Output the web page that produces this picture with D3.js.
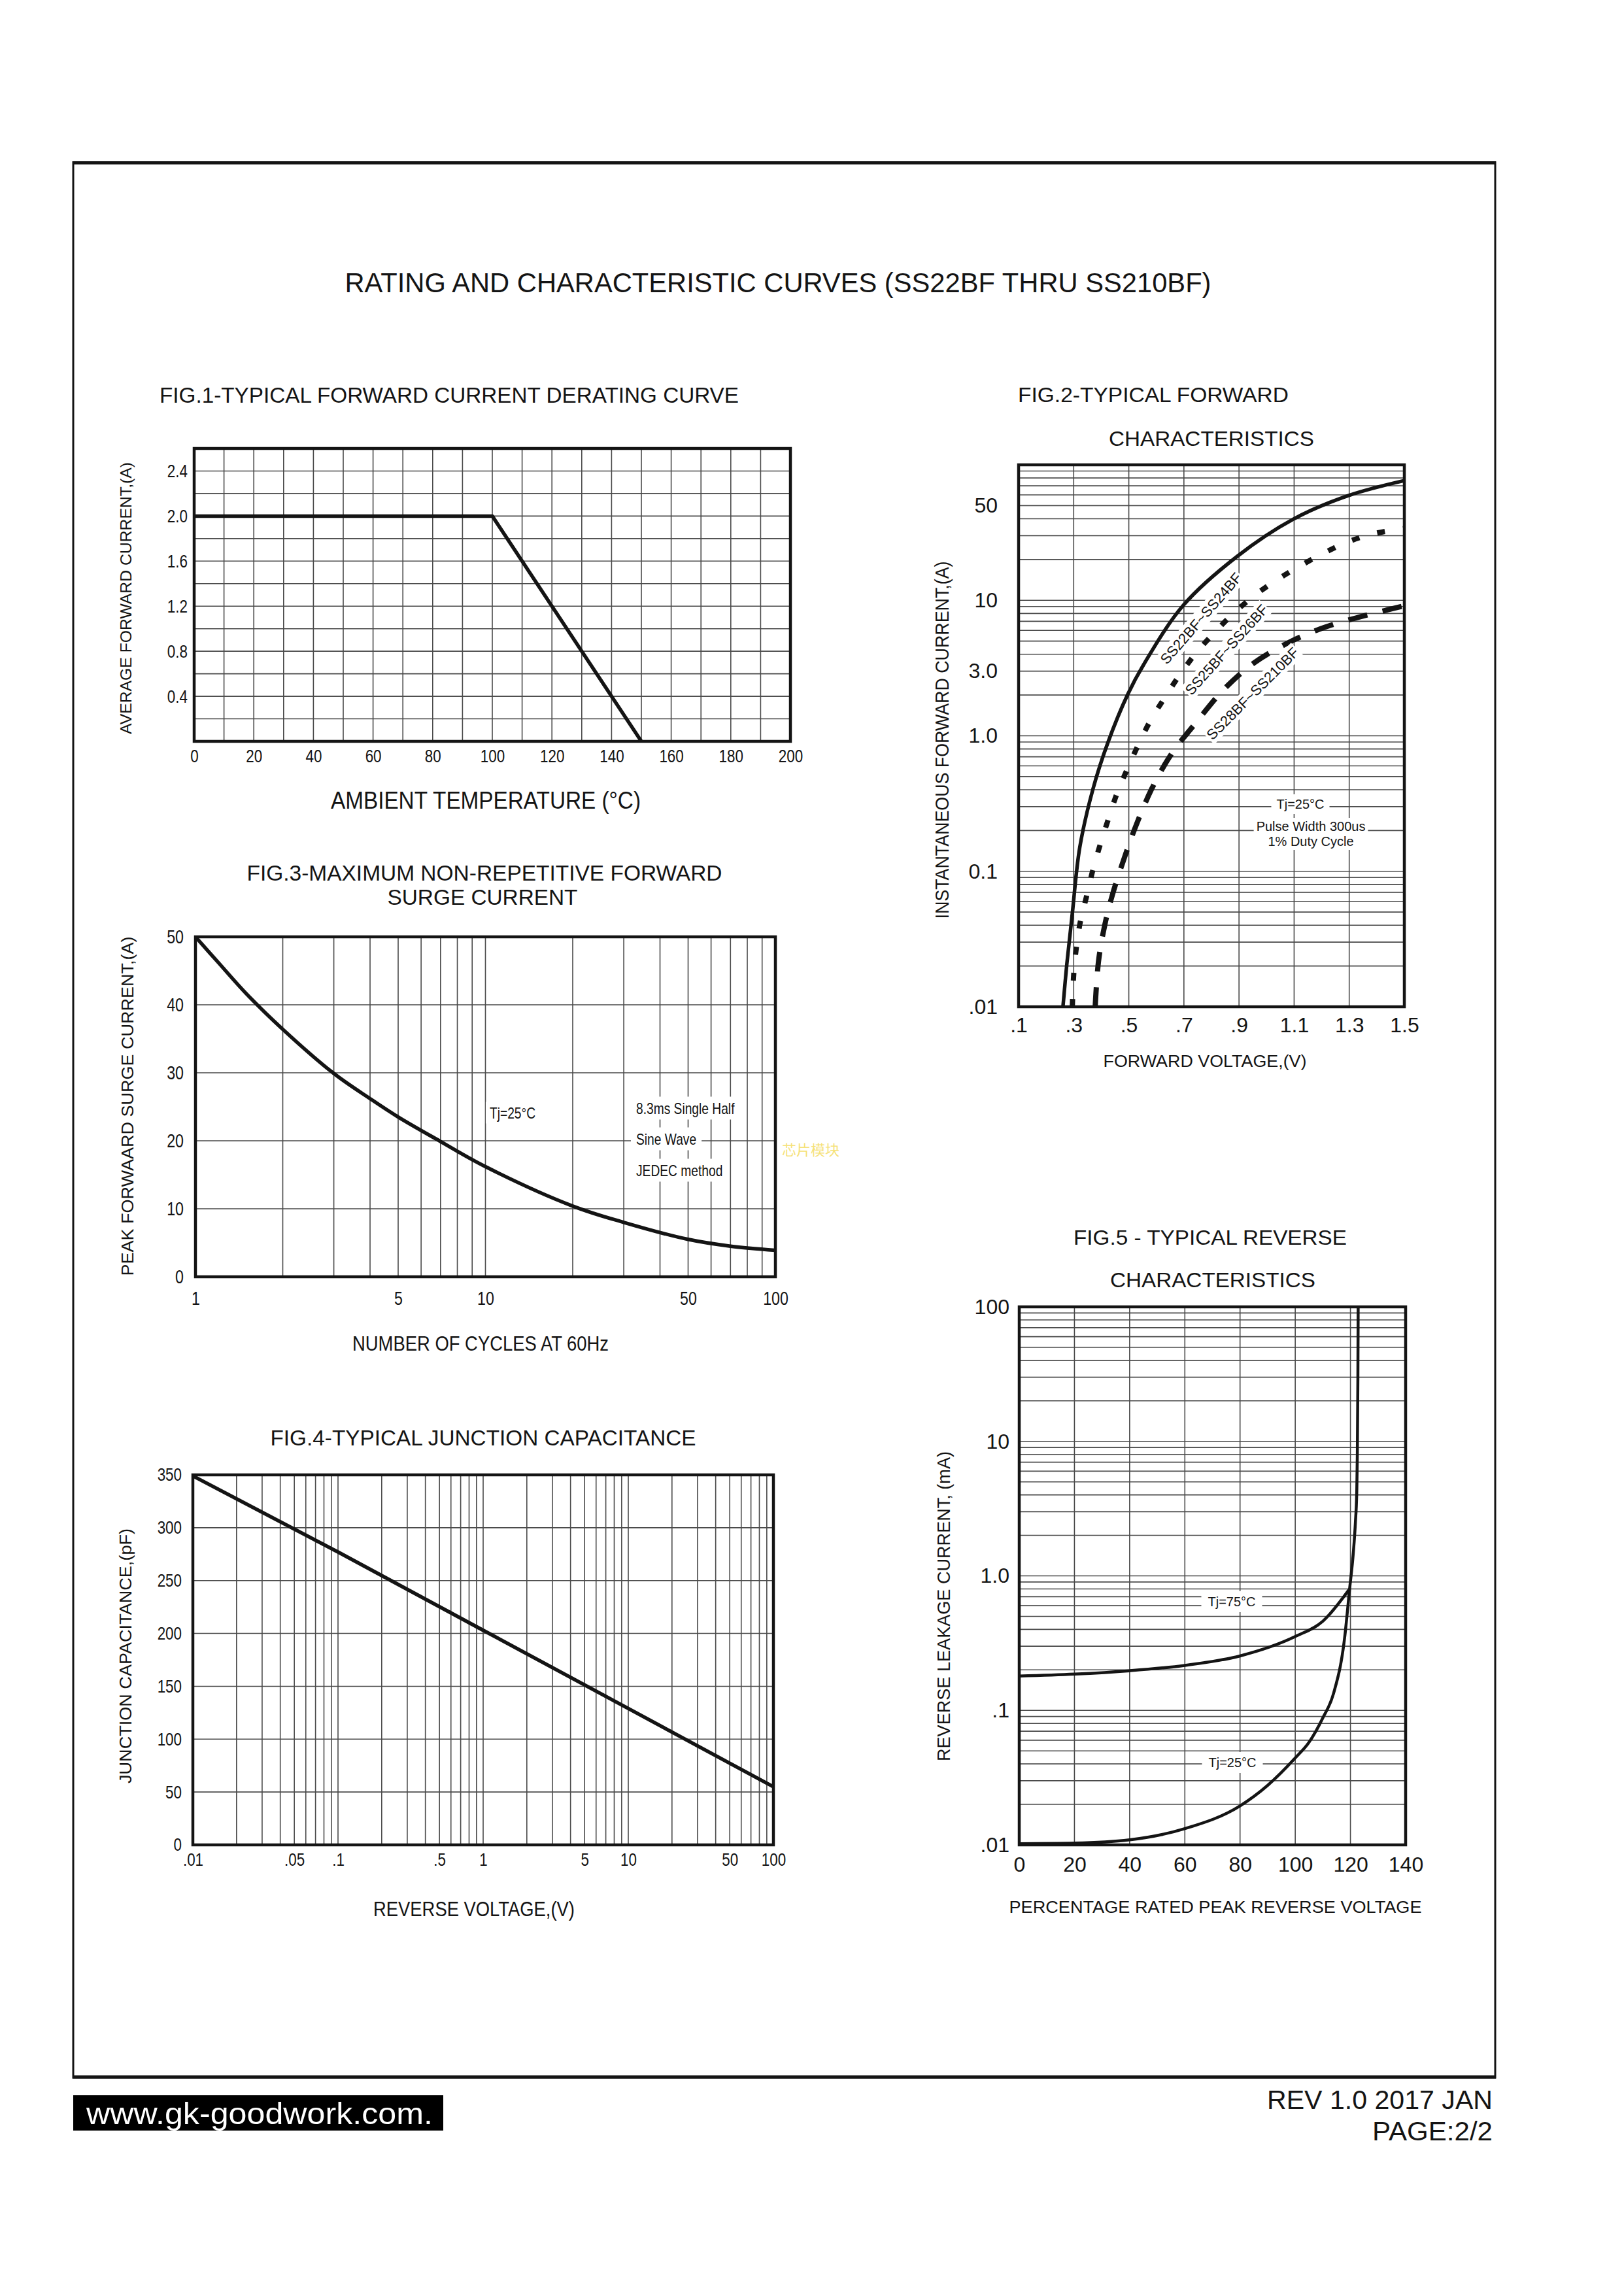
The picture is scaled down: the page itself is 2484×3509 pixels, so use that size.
<!DOCTYPE html>
<html><head><meta charset="utf-8">
<script src="https://cdn.jsdelivr.net/npm/d3@7"></script>
<style>html,body{margin:0;padding:0;background:#fff}</style>
</head><body>
<svg id="page" width="2484" height="3509" xmlns="http://www.w3.org/2000/svg"></svg>
<script>
// ---------------- DATA ----------------
// Fig.1 derating
const fig1Temp = [0, 100, 150];
const fig1Current = [2.0, 2.0, 0];
const fig1XTicks = [0, 20, 40, 60, 80, 100, 120, 140, 160, 180, 200];
const fig1YTicks = [0.4, 0.8, 1.2, 1.6, 2.0, 2.4];
const fig1YLabels = ["0.4", "0.8", "1.2", "1.6", "2.0", "2.4"];

// Fig.2 forward characteristics
const fig2V_a = [0.261, 0.275, 0.295, 0.322, 0.37, 0.424, 0.496, 0.556, 0.698, 0.892, 1.096, 1.295, 1.5];
const fig2I_a = [0.01, 0.0206, 0.049, 0.15, 0.405, 0.89, 2.02, 3.41, 9.2, 21, 39.6, 59.1, 76.5];
const fig2V_b = [0.295, 0.302, 0.322, 0.346, 0.37, 0.396, 0.425, 0.457, 0.495, 0.536, 0.579, 0.631, 0.686, 0.745, 0.809, 0.88, 0.955, 1.034, 1.117, 1.204, 1.295, 1.386, 1.5];
const fig2I_b = [0.01, 0.0196, 0.0403, 0.0645, 0.103, 0.157, 0.24, 0.375, 0.571, 0.87, 1.30, 1.92, 2.84, 4.1, 5.73, 8.0, 10.8, 14.0, 17.7, 22.1, 27, 30.9, 33.9];
const fig2V_c = [0.378, 0.39, 0.413, 0.441, 0.484, 0.524, 0.583, 0.654, 0.741, 0.844, 0.951, 1.07, 1.196, 1.327, 1.434, 1.5];
const fig2I_c = [0.01, 0.0216, 0.0403, 0.0676, 0.126, 0.212, 0.405, 0.731, 1.23, 2.19, 3.41, 4.76, 6.17, 7.43, 8.45, 9.1];
const fig2SeriesNames = ["SS22BF~SS24BF", "SS25BF~SS26BF", "SS28BF~SS210BF"];
const fig2XTicks = [0.1, 0.3, 0.5, 0.7, 0.9, 1.1, 1.3, 1.5];
const fig2XLabels = [".1", ".3", ".5", ".7", ".9", "1.1", "1.3", "1.5"];
const fig2YTicks = [0.01, 0.1, 1, 3, 10, 50];
const fig2YLabels = [".01", "0.1", "1.0", "3.0", "10", "50"];

// Fig.3 surge current
const fig3Cycles = [1, 1.2, 1.5, 2, 3, 4, 5, 7, 10, 20, 30, 50, 70, 100];
const fig3Amps = [50, 46.2, 41.6, 36.4, 29.9, 26.2, 23.5, 19.9, 16.2, 10.4, 8.0, 5.5, 4.5, 3.9];
const fig3XTicks = [1, 5, 10, 50, 100];
const fig3XLabels = ["1", "5", "10", "50", "100"];
const fig3YTicks = [0, 10, 20, 30, 40, 50];

// Fig.4 junction capacitance
const fig4Volts = [0.01, 0.1, 1, 10, 100];
const fig4Cap = [349, 277, 203, 129, 55];
const fig4XTicks = [0.01, 0.05, 0.1, 0.5, 1, 5, 10, 50, 100];
const fig4XLabels = [".01", ".05", ".1", ".5", "1", "5", "10", "50", "100"];
const fig4YTicks = [0, 50, 100, 150, 200, 250, 300, 350];

// Fig.5 reverse characteristics
const fig5Pct75 = [0, 20, 40, 60, 80, 100, 110, 119.7];
const fig5Leak75 = [0.18, 0.186, 0.197, 0.216, 0.254, 0.354, 0.46, 0.8];
const fig5Pct25 = [0, 20, 40, 60, 80, 90, 100, 105, 110, 113.9, 117.9, 119.7, 121, 121.8, 122.3, 122.5, 122.7, 122.8];
const fig5Leak25 = [0.0102, 0.0103, 0.0109, 0.0132, 0.0195, 0.0277, 0.0443, 0.058, 0.088, 0.134, 0.347, 0.8, 1.45, 2.5, 4.3, 8.1, 30, 100];
const fig5XTicks = [0, 20, 40, 60, 80, 100, 120, 140];
const fig5YTicks = [0.01, 0.1, 1, 10, 100];
const fig5YLabels = [".01", ".1", "1.0", "10", "100"];

// ---------------- DRAWING ----------------
const NARROW = "'Liberation Sans',Arial,Helvetica,sans-serif";
const NORMAL = "'Liberation Sans',Arial,Helvetica,sans-serif";
const SQUEEZE = 0.8;
const INK = "#141414";
const GRID = "#4a4a4a";

const svg = d3.select('#page');
svg.append('rect').attr('width', 2484).attr('height', 3509).attr('fill', '#fff');

function condense(sel, f) {
  sel.each(function () {
    const w = this.getComputedTextLength();
    d3.select(this).attr('textLength', w * f).attr('lengthAdjust', 'spacingAndGlyphs');
  });
}

function label(parent, s, x, y, o = {}) {
  const g = parent.append('g').attr('transform', `translate(${x},${y})` + (o.rotate ? ` rotate(${o.rotate})` : ''));
  const t = g.append('text').text(s)
    .attr('font-family', o.font || NORMAL).attr('font-size', o.size || 24)
    .attr('text-anchor', o.anchor || 'middle').attr('dominant-baseline', 'central')
    .attr('fill', o.fill || INK);
  if (o.weight) t.attr('font-weight', o.weight);
  if (o.len) t.attr('textLength', o.len).attr('lengthAdjust', 'spacingAndGlyphs');
  else if (o.narrow) condense(t, SQUEEZE);
  if (o.bg) {
    const b = t.node().getBBox();
    g.insert('rect', 'text').attr('x', b.x - o.bg).attr('y', b.y - o.bg / 2)
      .attr('width', b.width + 2 * o.bg).attr('height', b.height + o.bg).attr('fill', '#fff');
  }
  return g;
}

function logGrid(lo, hi) {
  const out = [];
  for (let e = Math.log10(lo); e < Math.log10(hi) - 1e-9; e++) {
    for (let k = 1; k <= 9; k++) out.push(k * Math.pow(10, e));
  }
  out.push(hi);
  return out;
}

function chart(box, xs, ys, o) {
  const g = svg.append('g');
  g.append('g').selectAll('line').data(o.xGrid).join('line')
    .attr('x1', d => xs(d)).attr('x2', d => xs(d)).attr('y1', box.y0).attr('y2', box.y1)
    .attr('stroke', GRID).attr('stroke-width', 1.6);
  g.append('g').selectAll('line').data(o.yGrid).join('line')
    .attr('y1', d => ys(d)).attr('y2', d => ys(d)).attr('x1', box.x0).attr('x2', box.x1)
    .attr('stroke', GRID).attr('stroke-width', 1.6);
  const curves = g.append('g');
  g.append('rect').attr('x', box.x0).attr('y', box.y0).attr('width', box.x1 - box.x0).attr('height', box.y1 - box.y0)
    .attr('fill', 'none').attr('stroke', INK).attr('stroke-width', 4.5);
  const ax = d3.axisBottom(xs).tickValues(o.xTicks).tickFormat((d, i) => o.xLabels[i]).tickSize(0).tickPadding(o.xPad);
  const axg = g.append('g').attr('transform', `translate(0,${box.y1})`).call(ax);
  axg.select('.domain').remove();
  const xt = axg.selectAll('text').attr('font-family', o.tickFont).attr('font-size', o.tickSize).attr('fill', INK);
  const ay = d3.axisLeft(ys).tickValues(o.yTicks).tickFormat((d, i) => o.yLabels[i]).tickSize(0).tickPadding(o.yPad);
  const ayg = g.append('g').attr('transform', `translate(${box.x0},0)`).call(ay);
  ayg.select('.domain').remove();
  const yt = ayg.selectAll('text').attr('font-family', o.tickFont).attr('font-size', o.tickSize).attr('fill', INK);
  if (o.narrowTicks) { condense(xt, SQUEEZE); condense(yt, SQUEEZE); }
  return { g, curves };
}

function drawCurve(layer, xs, ys, X, Y, o = {}) {
  const pts = X.map((x, i) => [xs(x), ys(Y[i])]);
  const line = d3.line().curve(o.curve || d3.curveCatmullRom.alpha(0.5));
  const p = layer.append('path').attr('d', line(pts)).attr('fill', 'none')
    .attr('stroke', INK).attr('stroke-width', o.width || 5)
    .attr('stroke-linejoin', 'round');
  if (o.dash) p.attr('stroke-dasharray', o.dash).attr('stroke-linecap', 'butt');
  return p;
}

// Page frame
svg.append('rect').attr('x', 112).attr('y', 248).attr('width', 2175).attr('height', 2930)
  .attr('fill', 'none').attr('stroke', INK).attr('stroke-width', 3);
svg.append('line').attr('x1', 111).attr('x2', 2288).attr('y1', 249).attr('y2', 249).attr('stroke', INK).attr('stroke-width', 5);
svg.append('line').attr('x1', 111).attr('x2', 2288).attr('y1', 3177).attr('y2', 3177).attr('stroke', INK).attr('stroke-width', 5);

label(svg, "RATING AND CHARACTERISTIC CURVES (SS22BF THRU SS210BF)", 1190, 432, { font: NARROW, size: 42, len: 1325 });

// ---------- FIG 1 ----------
{
  const box = { x0: 297, x1: 1209, y0: 686, y1: 1134 };
  const xs = d3.scaleLinear([0, 200], [box.x0, box.x1]);
  const ys = d3.scaleLinear([0, 2.6], [box.y1, box.y0]);
  const c = chart(box, xs, ys, {
    xGrid: d3.range(0, 201, 10), yGrid: d3.range(0, 2.61, 0.2),
    xTicks: fig1XTicks, xLabels: fig1XTicks.map(String), yTicks: fig1YTicks, yLabels: fig1YLabels,
    tickFont: NARROW, tickSize: 28, xPad: 12, yPad: 10, narrowTicks: true
  });
  drawCurve(c.curves, xs, ys, fig1Temp, fig1Current, { curve: d3.curveLinear, width: 5.5 });
  label(svg, "FIG.1-TYPICAL FORWARD CURRENT DERATING CURVE", 244, 604, { font: NARROW, size: 34, anchor: 'start', len: 886 });
  label(svg, "AMBIENT TEMPERATURE (°C)", 743, 1224, { font: NARROW, size: 37, len: 474 });
  label(svg, "AVERAGE FORWARD CURRENT,(A)", 192, 915, { font: NORMAL, size: 24, rotate: -90, len: 416 });
}

// ---------- FIG 2 ----------
{
  const box = { x0: 1558, x1: 2148, y0: 711, y1: 1540 };
  const xs = d3.scaleLinear([0.1, 1.5], [box.x0, box.x1]);
  const ys = d3.scaleLog([0.01, 100], [box.y1, box.y0]);
  const c = chart(box, xs, ys, {
    xGrid: fig2XTicks, yGrid: logGrid(0.01, 100),
    xTicks: fig2XTicks, xLabels: fig2XLabels, yTicks: fig2YTicks, yLabels: fig2YLabels,
    tickFont: NORMAL, tickSize: 32, xPad: 16, yPad: 32
  });
  drawCurve(c.curves, xs, ys, fig2V_a, fig2I_a, { width: 5.5 });
  drawCurve(c.curves, xs, ys, fig2V_b, fig2I_b, { width: 8, dash: "12,28" });
  drawCurve(c.curves, xs, ys, fig2V_c, fig2I_c, { width: 8, dash: "30,24" });
  const labLayer = svg.append('g');
  label(labLayer, fig2SeriesNames[0], 1837, 946, { font: NORMAL, size: 22, rotate: -49, bg: 2 });
  label(labLayer, fig2SeriesNames[1], 1876, 994, { font: NORMAL, size: 22, rotate: -48, bg: 2 });
  label(labLayer, fig2SeriesNames[2], 1916, 1061, { font: NORMAL, size: 22, rotate: -45, bg: 2 });
  label(svg, "Tj=25°C", 1989, 1230, { font: NORMAL, size: 20, bg: 8 });
  label(svg, "Pulse Width 300us", 2005, 1264, { font: NORMAL, size: 20, bg: 4 });
  label(svg, "1% Duty Cycle", 2005, 1287, { font: NORMAL, size: 20, bg: 4 });
  label(svg, "FIG.2-TYPICAL FORWARD", 1557, 604, { font: NORMAL, size: 32, anchor: 'start', len: 414 });
  label(svg, "CHARACTERISTICS", 1853, 671, { font: NORMAL, size: 32, len: 314 });
  label(svg, "FORWARD VOLTAGE,(V)", 1843, 1623, { font: NORMAL, size: 26, len: 311 });
  label(svg, "INSTANTANEOUS FORWARD CURRENT,(A)", 1440, 1132, { font: NARROW, size: 30, rotate: -90, len: 547 });
}

// ---------- FIG 3 ----------
{
  const box = { x0: 299, x1: 1186, y0: 1433, y1: 1953 };
  const xs = d3.scaleLog([1, 100], [box.x0, box.x1]);
  const ys = d3.scaleLinear([0, 50], [box.y1, box.y0]);
  const c = chart(box, xs, ys, {
    xGrid: logGrid(1, 100), yGrid: fig3YTicks,
    xTicks: fig3XTicks, xLabels: fig3XLabels, yTicks: fig3YTicks, yLabels: fig3YTicks.map(String),
    tickFont: NARROW, tickSize: 29, xPad: 22, yPad: 18, narrowTicks: true
  });
  drawCurve(c.curves, xs, ys, fig3Cycles, fig3Amps, { width: 5.5 });
  label(svg, "Tj=25°C", 784, 1702, { font: NARROW, size: 24, bg: 6, narrow: true });
  label(svg, "8.3ms Single Half", 973, 1695, { font: NARROW, size: 24, anchor: 'start', bg: 8, narrow: true });
  label(svg, "Sine Wave", 973, 1742, { font: NARROW, size: 24, anchor: 'start', bg: 8, narrow: true });
  label(svg, "JEDEC method", 973, 1790, { font: NARROW, size: 24, anchor: 'start', bg: 8, narrow: true });
  label(svg, "芯片模块", 1240, 1757, { font: "'Noto Sans CJK SC',sans-serif", size: 22, fill: "#f6e27a" });
  label(svg, "FIG.3-MAXIMUM NON-REPETITIVE FORWARD", 741, 1335, { font: NARROW, size: 34, len: 727 });
  label(svg, "SURGE CURRENT", 738, 1372, { font: NARROW, size: 34, len: 291 });
  label(svg, "NUMBER OF CYCLES AT 60Hz", 735, 2055, { font: NARROW, size: 31, len: 392 });
  label(svg, "PEAK FORWAARD SURGE CURRENT,(A)", 195, 1692, { font: NORMAL, size: 26, rotate: -90, len: 519 });
}

// ---------- FIG 4 ----------
{
  const box = { x0: 295, x1: 1183, y0: 2256, y1: 2822 };
  const xs = d3.scaleLog([0.01, 100], [box.x0, box.x1]);
  const ys = d3.scaleLinear([0, 350], [box.y1, box.y0]);
  const c = chart(box, xs, ys, {
    xGrid: logGrid(0.01, 100), yGrid: fig4YTicks,
    xTicks: fig4XTicks, xLabels: fig4XLabels, yTicks: fig4YTicks, yLabels: fig4YTicks.map(String),
    tickFont: NARROW, tickSize: 28, xPad: 12, yPad: 17, narrowTicks: true
  });
  drawCurve(c.curves, xs, ys, fig4Volts, fig4Cap, { curve: d3.curveLinear, width: 5.5 });
  label(svg, "FIG.4-TYPICAL JUNCTION CAPACITANCE", 739, 2199, { font: NARROW, size: 34, len: 651 });
  label(svg, "REVERSE VOLTAGE,(V)", 725, 2920, { font: NARROW, size: 31, len: 308 });
  label(svg, "JUNCTION CAPACITANCE,(pF)", 192, 2533, { font: NORMAL, size: 26, rotate: -90, len: 390 });
}

// ---------- FIG 5 ----------
{
  const box = { x0: 1559, x1: 2150, y0: 1999, y1: 2822 };
  const xs = d3.scaleLinear([0, 140], [box.x0, box.x1]);
  const ys = d3.scaleLog([0.01, 100], [box.y1, box.y0]);
  const c = chart(box, xs, ys, {
    xGrid: fig5XTicks, yGrid: logGrid(0.01, 100),
    xTicks: fig5XTicks, xLabels: fig5XTicks.map(String), yTicks: fig5YTicks, yLabels: fig5YLabels,
    tickFont: NORMAL, tickSize: 32, xPad: 18, yPad: 15
  });
  drawCurve(c.curves, xs, ys, fig5Pct75, fig5Leak75, { width: 4.5, curve: d3.curveMonotoneX });
  drawCurve(c.curves, xs, ys, fig5Pct25, fig5Leak25, { width: 4.5, curve: d3.curveMonotoneX });
  label(svg, "Tj=75°C", 1884, 2450, { font: NORMAL, size: 20, bg: 10 });
  label(svg, "Tj=25°C", 1885, 2696, { font: NORMAL, size: 20, bg: 10 });
  label(svg, "FIG.5 - TYPICAL REVERSE", 1851, 1893, { font: NORMAL, size: 32, len: 418 });
  label(svg, "CHARACTERISTICS", 1855, 1958, { font: NORMAL, size: 32, len: 314 });
  label(svg, "PERCENTAGE RATED PEAK REVERSE VOLTAGE", 1859, 2917, { font: NORMAL, size: 26, len: 631 });
  label(svg, "REVERSE LEAKAGE CURRENT, (mA)", 1443, 2457, { font: NARROW, size: 28, rotate: -90, len: 474 });
}

// ---------- FOOTER ----------
svg.append('rect').attr('x', 112).attr('y', 3205).attr('width', 566).attr('height', 54).attr('fill', '#000');
label(svg, "www.gk-goodwork.com.", 397, 3233, { font: NARROW, size: 46, fill: '#fff', len: 530 });
label(svg, "REV 1.0 2017 JAN", 2283, 3212, { font: NARROW, size: 40, anchor: 'end', len: 345 });
label(svg, "PAGE:2/2", 2283, 3260, { font: NARROW, size: 40, anchor: 'end', len: 184 });
</script>
</body></html>
